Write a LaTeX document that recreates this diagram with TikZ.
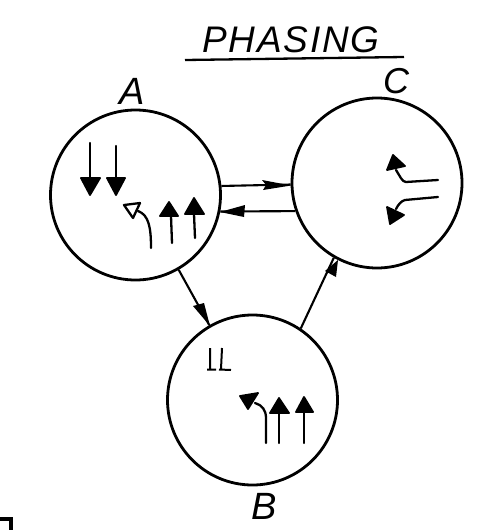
\documentclass[tikz,border=0pt]{standalone}
\usepackage{fontspec}
\setmainfont{Liberation Sans}
\usetikzlibrary{arrows.meta}
\tikzset{
  ring/.style={circle,draw,line width=2.8pt,minimum size=170pt,inner sep=0pt},
  ink/.style={line width=2.3pt,line cap=round},
  conn/.style={line width=2.1pt},
  hand/.style={font=\itshape,inner sep=0pt},
  midhead/.style={fill=black,draw=black,line width=1.8pt,line join=round}
}
\begin{document}
\begin{tikzpicture}[x=1pt,y=-1pt]
\useasboundingbox (0,0) rectangle (486,530);
\node[ring] (A) at (135.5,195) {};
\node[ring] (C) at (377,183) {};
\node[ring] (B) at (252.5,400) {};
% titles
\node[hand,font=\itshape\fontsize{37}{37}\selectfont\addfontfeature{LetterSpace=5}] (T) at (291,40) {PHASING};
\coordinate (UL) at (185,60);
\coordinate (UR) at (404,57);
\draw[line width=2.3pt] (UL) -- (UR);
\node[hand,font=\itshape\fontsize{38}{38}\selectfont] (LA) at (132,91) {A};
\node[hand,font=\itshape\fontsize{36}{36}\selectfont] (LC) at (396,81) {C};
\node[hand,font=\itshape\fontsize{38}{38}\selectfont] (LB) at (264,506) {B};
% connectors
\draw[conn] (A.6.6) -- (C.181);
\fill (262,180) -- (291,185.5) -- (263,190) -- (266,185) -- cycle;
\draw[conn] (C.199) -- (A.-11);
\fill (220,212) -- (245,205) -- (244,217) -- cycle;
\draw[conn] (A.-60) -- (B.120.6);
\fill (193,306) -- (204,303) -- (210,326) -- cycle;
\draw[conn] (B.56) -- (C.240);
\fill (325,271) -- (338,260) -- (336,277) -- cycle;
% circle A contents
\coordinate (a1) at (90,143); \coordinate (a2) at (90,179);
\draw[ink] (a1) -- (a2);
\fill[midhead] (81,178) -- (100,178) -- (90,195) -- cycle;
\coordinate (a3) at (116,146); \coordinate (a4) at (116,179);
\draw[ink] (a3) -- (a4);
\fill[midhead] (107,178) -- (125,178) -- (116,195) -- cycle;
\draw[ink] (172,243) -- (171,216);
\fill[midhead] (160,216) -- (178,216) -- (169,202) -- cycle;
\draw[ink] (195,238) -- (194,214);
\fill[midhead] (185,214) -- (204,214) -- (194,198) -- cycle;
\draw[ink] (151,248) .. controls (151,228) and (149,215) .. (138,211);
\draw[line width=2.3pt,fill=white,line join=round] (124,205) -- (140,203) -- (133,218) -- cycle;
% circle C contents
\draw[ink] (438,180) -- (406,182) .. controls (402,182) and (400,176) .. (396,170);
\fill[midhead] (393,155) -- (405,166) -- (387,170) -- cycle;
\draw[ink] (438,197) -- (405,200) .. controls (401,201) and (398,205) .. (396,209);
\fill[midhead] (404,215) -- (387,207) -- (390,224) -- cycle;
% circle B contents
\draw[line width=2pt] (210,348) -- (210,369) (207,369.5) -- (216,369.5)
  (222,348) -- (221,369) (219,369.5) -- (231,370);
\draw[ink] (266,443) -- (266,418) .. controls (266,410) and (262,405) .. (255,403);
\fill[midhead] (240,396) -- (258,393) -- (248,409) -- cycle;
\draw[ink] (279,443) -- (279,413);
\fill[midhead] (270,413) -- (289,413) -- (279,398) -- cycle;
\draw[ink] (304,443) -- (304,412);
\fill[midhead] (296,412) -- (313,412) -- (304,397) -- cycle;
% page-corner fragment
\draw[line width=3.5pt] (0,519) -- (11,519) -- (11,530);
\end{tikzpicture}
\end{document}
